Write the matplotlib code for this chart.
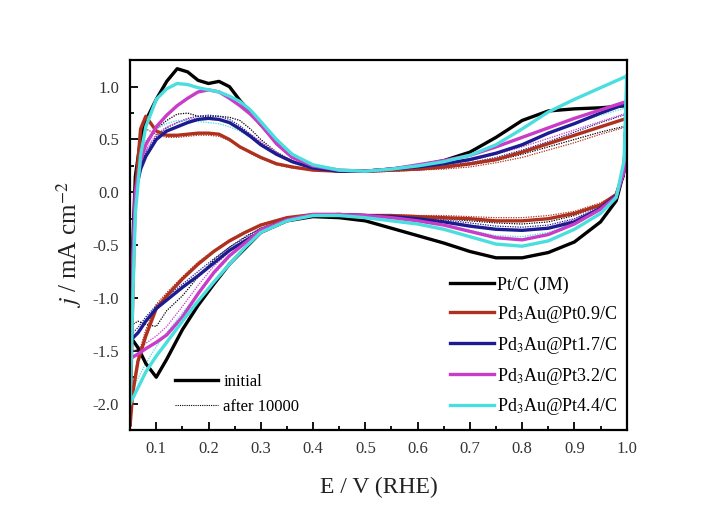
import matplotlib
matplotlib.use("Agg")
from matplotlib import pyplot as plt
from matplotlib.lines import Line2D
from matplotlib.ticker import MultipleLocator

plt.rcParams['font.family'] = ['Liberation Serif', 'DejaVu Serif']
plt.rcParams['mathtext.fontset'] = 'stix'
plt.rcParams['axes.unicode_minus'] = False

# potential grids (V vs RHE)
E_up = [0.05, 0.055, 0.06, 0.07, 0.08, 0.10, 0.12, 0.14, 0.16, 0.18, 0.20, 0.22, 0.24, 0.26, 0.28,
        0.30, 0.33, 0.36, 0.40, 0.45, 0.50, 0.55, 0.60, 0.65, 0.70, 0.75, 0.80, 0.85, 0.90, 0.95, 1.00]
E_down = [1.00, 0.995, 0.98, 0.95, 0.90, 0.85, 0.80, 0.75, 0.70, 0.65, 0.60, 0.55, 0.50, 0.45,
          0.40, 0.35, 0.30, 0.27, 0.24, 0.21, 0.18, 0.15, 0.12, 0.10, 0.08, 0.065, 0.055, 0.05]

# initial CVs
pt_up = [-1.4, -0.5, 0.15, 0.5, 0.68, 0.88, 1.05, 1.17, 1.14, 1.06, 1.03, 1.05, 1.00, 0.87, 0.76,
         0.64, 0.48, 0.34, 0.24, 0.20, 0.20, 0.22, 0.25, 0.30, 0.38, 0.52, 0.68, 0.77, 0.79, 0.80, 0.82]
pt_down = [0.82, 0.2, -0.08, -0.28, -0.47, -0.57, -0.62, -0.62, -0.56, -0.48, -0.41, -0.34, -0.27, -0.24,
           -0.23, -0.27, -0.38, -0.53, -0.68, -0.87, -1.07, -1.30, -1.58, -1.75, -1.62, -1.47, -1.40, -1.40]

pt09_up = [-2.2, -1.0, 0.0, 0.6, 0.72, 0.58, 0.54, 0.54, 0.55, 0.56, 0.56, 0.55, 0.50, 0.43, 0.38,
           0.33, 0.27, 0.24, 0.21, 0.20, 0.20, 0.21, 0.22, 0.24, 0.27, 0.31, 0.38, 0.46, 0.54, 0.62, 0.70]
pt09_down = [0.70, 0.2, -0.02, -0.12, -0.20, -0.25, -0.27, -0.27, -0.25, -0.24, -0.23, -0.22, -0.22, -0.21,
             -0.21, -0.24, -0.31, -0.38, -0.46, -0.56, -0.68, -0.82, -0.98, -1.10, -1.36, -1.60, -1.90, -2.20]

pt17_up = [-1.4, -0.6, 0.0, 0.22, 0.34, 0.50, 0.58, 0.62, 0.66, 0.69, 0.70, 0.69, 0.66, 0.60, 0.53,
           0.45, 0.36, 0.29, 0.23, 0.20, 0.20, 0.22, 0.24, 0.27, 0.31, 0.37, 0.45, 0.56, 0.65, 0.75, 0.84]
pt17_down = [0.84, 0.2, -0.03, -0.15, -0.28, -0.34, -0.36, -0.35, -0.32, -0.28, -0.25, -0.23, -0.22, -0.21,
             -0.22, -0.26, -0.37, -0.46, -0.55, -0.67, -0.79, -0.90, -1.02, -1.10, -1.22, -1.33, -1.38, -1.40]

pt32_up = [-1.55, -0.6, 0.0, 0.3, 0.45, 0.62, 0.73, 0.82, 0.89, 0.95, 0.97, 0.95, 0.89, 0.82, 0.74,
           0.64, 0.46, 0.33, 0.25, 0.21, 0.20, 0.22, 0.26, 0.30, 0.35, 0.43, 0.52, 0.61, 0.70, 0.78, 0.86]
pt32_down = [0.86, 0.2, -0.04, -0.16, -0.30, -0.40, -0.45, -0.43, -0.37, -0.31, -0.27, -0.24, -0.22, -0.21,
             -0.21, -0.26, -0.36, -0.48, -0.60, -0.76, -0.96, -1.18, -1.35, -1.42, -1.48, -1.53, -1.56, -1.55]

pt44_up = [-2.0, -1.0, -0.2, 0.35, 0.62, 0.88, 0.98, 1.03, 1.02, 0.99, 0.97, 0.95, 0.91, 0.86, 0.78,
           0.67, 0.50, 0.36, 0.26, 0.21, 0.20, 0.22, 0.25, 0.29, 0.35, 0.45, 0.60, 0.76, 0.88, 0.99, 1.10]
pt44_down = [1.10, 0.3, -0.05, -0.20, -0.35, -0.46, -0.51, -0.49, -0.42, -0.35, -0.30, -0.27, -0.24, -0.22,
             -0.22, -0.27, -0.38, -0.52, -0.68, -0.85, -1.03, -1.22, -1.42, -1.55, -1.70, -1.85, -1.95, -2.0]

# after 10000 cycles
pt_up_a = [-1.3, -0.5, 0.1, 0.35, 0.48, 0.60, 0.68, 0.74, 0.75, 0.72, 0.72, 0.72, 0.71, 0.68, 0.60,
           0.50, 0.38, 0.30, 0.23, 0.20, 0.19, 0.20, 0.21, 0.23, 0.26, 0.30, 0.36, 0.43, 0.50, 0.57, 0.63]
pt_down_a = [0.63, 0.15, -0.02, -0.12, -0.22, -0.28, -0.30, -0.29, -0.27, -0.25, -0.23, -0.22, -0.21, -0.21,
             -0.21, -0.25, -0.34, -0.42, -0.52, -0.64, -0.80, -0.98, -1.12, -1.27, -1.25, -1.22, -1.25, -1.3]

pt09_up_a = [-2.0, -0.9, 0.0, 0.45, 0.6, 0.55, 0.52, 0.52, 0.53, 0.54, 0.54, 0.53, 0.49, 0.43, 0.37,
             0.32, 0.26, 0.23, 0.21, 0.19, 0.19, 0.20, 0.21, 0.22, 0.24, 0.28, 0.33, 0.40, 0.47, 0.55, 0.62]
pt09_down_a = [0.62, 0.15, -0.02, -0.10, -0.18, -0.22, -0.24, -0.24, -0.23, -0.22, -0.22, -0.21, -0.21, -0.21,
               -0.21, -0.24, -0.30, -0.37, -0.45, -0.55, -0.66, -0.80, -0.95, -1.06, -1.30, -1.55, -1.85, -2.0]

pt17_up_a = [-1.35, -0.55, 0.0, 0.25, 0.38, 0.53, 0.61, 0.66, 0.70, 0.72, 0.73, 0.72, 0.69, 0.63, 0.55,
             0.47, 0.37, 0.29, 0.23, 0.20, 0.19, 0.21, 0.22, 0.25, 0.28, 0.33, 0.40, 0.48, 0.57, 0.66, 0.74]
pt17_down_a = [0.74, 0.15, -0.03, -0.13, -0.25, -0.31, -0.33, -0.32, -0.29, -0.26, -0.24, -0.22, -0.21, -0.21,
               -0.21, -0.25, -0.34, -0.43, -0.52, -0.63, -0.75, -0.87, -0.99, -1.07, -1.18, -1.28, -1.33, -1.35]

pt32_up_a = [-1.5, -0.6, 0.0, 0.28, 0.40, 0.55, 0.62, 0.66, 0.69, 0.70, 0.70, 0.69, 0.66, 0.61, 0.55,
             0.48, 0.38, 0.29, 0.23, 0.20, 0.19, 0.21, 0.23, 0.26, 0.30, 0.36, 0.43, 0.51, 0.59, 0.67, 0.75]
pt32_down_a = [0.75, 0.15, -0.03, -0.14, -0.26, -0.33, -0.36, -0.35, -0.31, -0.27, -0.24, -0.22, -0.21, -0.21,
               -0.21, -0.25, -0.34, -0.45, -0.56, -0.70, -0.88, -1.08, -1.27, -1.36, -1.43, -1.48, -1.50, -1.5]

pt44_up_a = [-1.9, -0.9, -0.1, 0.30, 0.48, 0.60, 0.65, 0.68, 0.68, 0.67, 0.66, 0.65, 0.62, 0.58, 0.52,
             0.45, 0.36, 0.28, 0.22, 0.20, 0.19, 0.21, 0.23, 0.26, 0.30, 0.37, 0.46, 0.56, 0.65, 0.73, 0.80]
pt44_down_a = [0.80, 0.2, -0.04, -0.16, -0.29, -0.38, -0.42, -0.41, -0.36, -0.30, -0.27, -0.24, -0.22, -0.21,
               -0.21, -0.26, -0.36, -0.48, -0.62, -0.78, -0.96, -1.14, -1.33, -1.46, -1.62, -1.76, -1.86, -1.9]

labels = ["Pt/C (JM)", "Pd$_3$Au@Pt0.9/C", "Pd$_3$Au@Pt1.7/C", "Pd$_3$Au@Pt3.2/C", "Pd$_3$Au@Pt4.4/C"]
colors = ["#000000", "#b0301e", "#1c1c90", "#c83cc8", "#4adede"]

initial = [(pt_up, pt_down), (pt09_up, pt09_down), (pt17_up, pt17_down),
           (pt32_up, pt32_down), (pt44_up, pt44_down)]
aged = [(pt_up_a, pt_down_a), (pt09_up_a, pt09_down_a), (pt17_up_a, pt17_down_a),
        (pt32_up_a, pt32_down_a), (pt44_up_a, pt44_down_a)]

fig = plt.figure(figsize=(7.27, 5.15), dpi=100)
ax = fig.add_axes([0.179, 0.165, 0.683, 0.718])

handles = []
for (up_a, down_a), c in zip(aged, colors):
    ax.plot(E_up, up_a, color=c, lw=0.9, ls=(0, (1, 1)))
    ax.plot(E_down, down_a, color=c, lw=0.9, ls=(0, (1, 1)))
for (up, down), c, lab in zip(initial, colors, labels):
    ax.plot(E_up, up, color=c, lw=2.4, solid_joinstyle='round')
    ax.plot(E_down, down, color=c, lw=2.4, solid_joinstyle='round')
    handles.append(Line2D([], [], color=c, lw=2.4, label=lab))

ax.set_xlim(0.05, 1.0)
ax.set_ylim(-2.25, 1.25)
ax.xaxis.set_minor_locator(MultipleLocator(0.05))
ax.yaxis.set_major_locator(MultipleLocator(0.5))
ax.yaxis.set_minor_locator(MultipleLocator(0.25))
ax.tick_params(which='both', direction='in', top=False, right=False, width=1.3, labelsize=12, labelcolor='#333333')
ax.tick_params(which='major', length=6, pad=8)
ax.tick_params(which='minor', length=3)
ax.set_xticks([0.1, 0.2, 0.3, 0.4, 0.5, 0.6, 0.7, 0.8, 0.9, 1.0])
ax.set_xticklabels(["0.1", "0.2", "0.3", "0.4", "0.5", "0.6", "0.7", "0.8", "0.9", "1.0"])
for s in ax.spines.values():
    s.set_linewidth(1.6)

ax.set_xlabel("E / V (RHE)", fontsize=17, labelpad=14, color='#222222')
ax.set_ylabel("$j$ / mA cm$^{-2}$", fontsize=18, labelpad=6, color='#222222')

leg1 = ax.legend(handles=handles, loc='lower right', bbox_to_anchor=(1.015, -0.01), frameon=False,
                 fontsize=13, handlelength=2.4, handletextpad=0.2, labelspacing=0.55)
ax.add_artist(leg1)
style_handles = [Line2D([], [], color='black', lw=2.4, label='initial'),
                 Line2D([], [], color='black', lw=0.8, ls=(0, (1, 1)), label='after 10000')]
ax.legend(handles=style_handles, loc='lower left', bbox_to_anchor=(0.06, 0.0), frameon=False,
          fontsize=12, handlelength=2.6, handletextpad=0.3, labelspacing=0.55)

fig.savefig("out.png", dpi=100)
